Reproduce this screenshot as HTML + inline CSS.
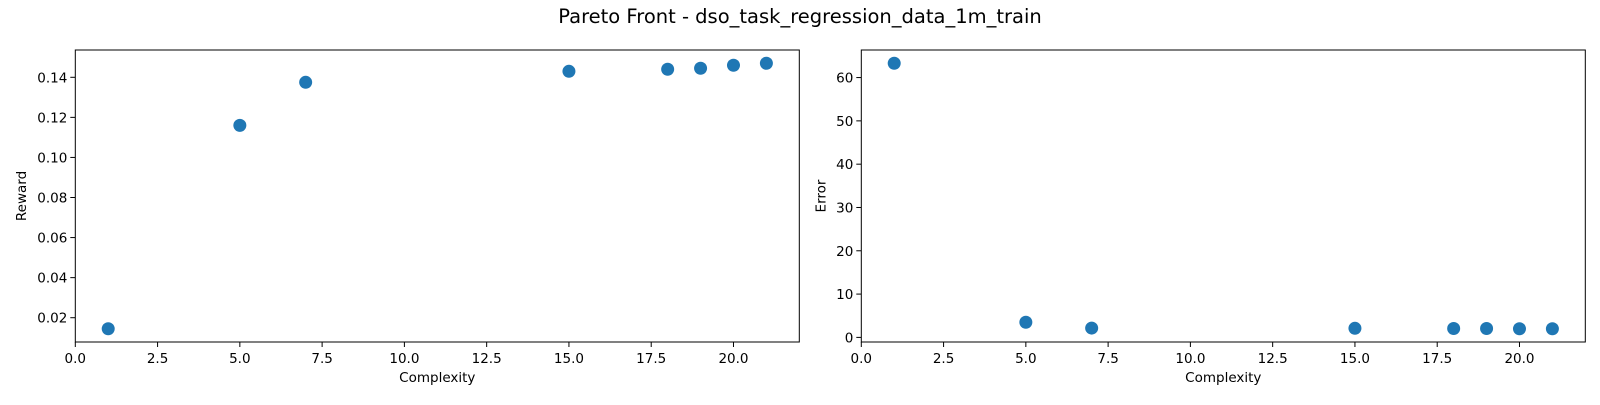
<!DOCTYPE html>
<html><head><meta charset="utf-8"><style>
body{margin:0;background:#fff;width:1600px;height:400px;overflow:hidden}
svg{font-family:"DejaVu Sans","Liberation Sans",sans-serif}
</style></head><body>
<svg id="chart" width="1600" height="400">
<text x="800" y="23" text-anchor="middle" font-size="19.5" fill="#000">Pareto Front - dso_task_regression_data_1m_train</text>
</svg>
<script>
const complexity=[1,5,7,15,18,19,20,21];
const reward=[0.0145,0.116,0.1375,0.143,0.144,0.1445,0.146,0.147];
const errorVals=[63.3,3.5,2.15,2.1,2.05,2.05,2.0,2.0];
const xTicks=[0,2.5,5,7.5,10,12.5,15,17.5,20];
const xTickLabels=["0.0","2.5","5.0","7.5","10.0","12.5","15.0","17.5","20.0"];
const rewardTicks=[0.02,0.04,0.06,0.08,0.10,0.12,0.14];
const rewardTickLabels=["0.02","0.04","0.06","0.08","0.10","0.12","0.14"];
const errorTicks=[0,10,20,30,40,50,60];
const errorTickLabels=["0","10","20","30","40","50","60"];

const NS="http://www.w3.org/2000/svg";
const svg=document.getElementById('chart');
function mk(tag,attrs,parent){const e=document.createElementNS(NS,tag);for(const k in attrs)e.setAttribute(k,attrs[k]);(parent||svg).appendChild(e);return e;}
function lim(vals){const mn=Math.min(...vals),mx=Math.max(...vals),p=(mx-mn)*0.05;return [mn-p,mx+p];}

function panel(name,left,ys,yt,ytl,ylabel){
  const top=50,bottom=342,w=724;
  const g=mk('g',{});
  
  
  const [x0,x1]=lim(complexity),[y0,y1]=lim(ys);
  const xs=v=>left+(v-x0)/(x1-x0)*w;
  const yv=v=>bottom-(v-y0)/(y1-y0)*(bottom-top);
  xTicks.forEach((t,i)=>{
    const X=xs(t);
    const l=mk('line',{x1:X,x2:X,y1:bottom,y2:bottom+5,stroke:'#000','stroke-width':1},g);
    
    
    const tx=mk('text',{x:X,y:bottom+21,'text-anchor':'middle','font-size':13.5,fill:'#000'},g);
    tx.textContent=xTickLabels[i];
    
    
  });
  yt.forEach((t,i)=>{
    const Y=yv(t);
    const l=mk('line',{x1:left-5,x2:left,y1:Y,y2:Y,stroke:'#000','stroke-width':1},g);
    
    
    const tx=mk('text',{x:left-8,y:Y+5,'text-anchor':'end','font-size':13.5,fill:'#000'},g);
    tx.textContent=ytl[i];
    
    
  });
  complexity.forEach((c,i)=>{
    const p=mk('circle',{cx:xs(c),cy:yv(ys[i]),r:6.5,fill:'#1f77b4'},g);
    
    
  });
  const fr=mk('rect',{x:left,y:top,width:w,height:bottom-top,fill:'none',stroke:'#000','stroke-width':1},g);
  
  
  const xl=mk('text',{x:left+w/2,y:382,'text-anchor':'middle','font-size':13.5,fill:'#000'},g);
  xl.textContent='Complexity';
  
  
  const lx=name==='reward'?26:left-36;
  const yl=mk('text',{x:lx,y:(top+bottom)/2,'text-anchor':'middle','font-size':13.5,fill:'#000',transform:`rotate(-90 ${lx} ${(top+bottom)/2})`},g);
  yl.textContent=ylabel;
  
  
}
panel('reward',75.3,reward,rewardTicks,rewardTickLabels,'Reward');
panel('error',861.3,errorVals,errorTicks,errorTickLabels,'Error');
</script>
</body></html>
